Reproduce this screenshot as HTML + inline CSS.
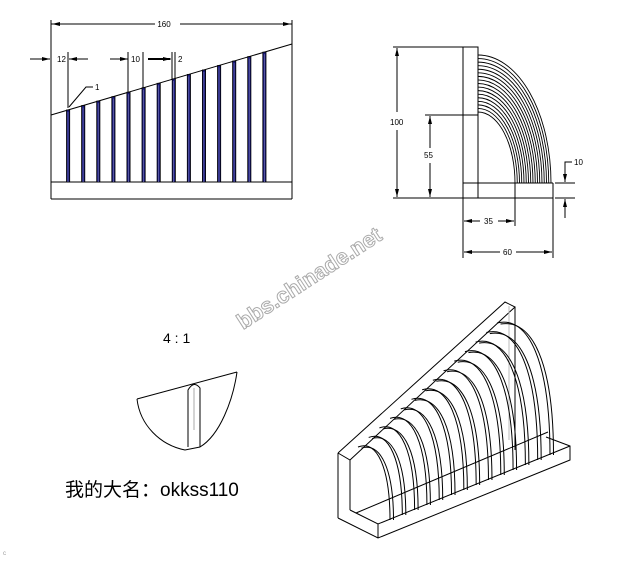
<!DOCTYPE html>
<html><head><meta charset="utf-8"><style>
html,body{margin:0;padding:0;background:#fff;}
svg{display:block;font-family:"Liberation Sans",sans-serif;}
</style></head><body>
<svg id="s" width="638" height="562" viewBox="0 0 638 562" xmlns="http://www.w3.org/2000/svg">
<defs>
<marker id="a" markerWidth="8" markerHeight="6" refX="8" refY="3" orient="auto" markerUnits="userSpaceOnUse"><path d="M0,1 L8,3 L0,5 z" fill="#000"/></marker>
</defs>
<g stroke="#000" stroke-width="1" fill="none">
<line x1="51" y1="20" x2="51" y2="199"/>
<line x1="292" y1="20" x2="292" y2="199"/>
<line x1="51" y1="199" x2="292" y2="199"/>
<line x1="51" y1="182" x2="292" y2="182"/>
<line x1="51" y1="115" x2="292" y2="44"/>
<path d="M51,24 L155,24"/>
<path d="M180,24 L292,24"/>
<path d="M60,24 L52,24" marker-end="url(#a)"/>
<path d="M283,24 L291,24" marker-end="url(#a)"/>
<line x1="30" y1="59" x2="50" y2="59" marker-end="url(#a)"/>
<line x1="88" y1="59" x2="69" y2="59" marker-end="url(#a)"/>
<line x1="68" y1="52" x2="68" y2="108"/>
<line x1="110" y1="59" x2="128" y2="59" marker-end="url(#a)"/>
<line x1="128" y1="52" x2="128" y2="95"/>
<line x1="143" y1="52" x2="143" y2="90"/>
<line x1="148" y1="59" x2="170" y2="59" stroke-width="2"/>
<line x1="165" y1="59" x2="171" y2="59" marker-end="url(#a)"/>
<line x1="172" y1="52" x2="172" y2="80"/>
<line x1="175" y1="52" x2="175" y2="80"/>
<polyline points="93,87 86,87 69,107"/>
<rect x="463" y="47" width="15" height="151"/>
<line x1="463" y1="183" x2="553" y2="183"/>
<polyline points="478,198 553,198 553,183"/>
<line x1="393" y1="47" x2="463" y2="47"/>
<line x1="393" y1="198" x2="463" y2="198"/>
<line x1="425" y1="115" x2="478" y2="115"/>
<line x1="397" y1="112" x2="397" y2="48" marker-end="url(#a)"/>
<line x1="397" y1="130" x2="397" y2="197" marker-end="url(#a)"/>
<line x1="430" y1="148" x2="430" y2="116" marker-end="url(#a)"/>
<line x1="430" y1="163" x2="430" y2="197" marker-end="url(#a)"/>
<line x1="515" y1="183" x2="515" y2="226"/>
<line x1="463" y1="198" x2="463" y2="258"/>
<line x1="553" y1="198" x2="553" y2="258"/>
<line x1="480" y1="221" x2="464" y2="221" marker-end="url(#a)"/>
<line x1="498" y1="221" x2="514" y2="221" marker-end="url(#a)"/>
<line x1="500" y1="252" x2="464" y2="252" marker-end="url(#a)"/>
<line x1="516" y1="252" x2="552" y2="252" marker-end="url(#a)"/>
<line x1="555" y1="183" x2="575" y2="183"/>
<line x1="555" y1="198" x2="575" y2="198"/>
<polyline points="572,162 565,162 565,182" />
<line x1="565" y1="170" x2="565" y2="182" marker-end="url(#a)"/>
<line x1="565" y1="218" x2="565" y2="199" marker-end="url(#a)"/>
<line x1="137" y1="399" x2="237" y2="372"/>
<path d="M137,399 C140,425 160,445 185,450 L200,447 C220,435 233,400 237,372"/>
<path d="M188,447 L188,390 Q194,380 200,388 L200,447" />
<line x1="194" y1="388" x2="194" y2="430" stroke="#aaa"/>
<polyline points="338,453 505,302 515,307 350,460 338,453"/>
<line x1="338" y1="453" x2="338" y2="518"/>
<line x1="350" y1="460" x2="350" y2="510"/>
<line x1="515" y1="307" x2="515" y2="450"/>
<line x1="509" y1="306" x2="509" y2="440" stroke="#bbb"/>
<polyline points="338,518 378,538 570,460 570,446 546,437"/>
<polyline points="350,510 356,513 378,524 570,446"/>
<line x1="378" y1="524" x2="378" y2="538"/>
<line x1="356" y1="513" x2="548" y2="432"/>
</g>
<g id="bars" stroke="#000" stroke-width="0.8"></g>
<g id="arcs" fill="none" stroke="#000" stroke-width="0.9"></g>
<g id="iso" fill="none" stroke="#000" stroke-width="1"></g>
<g font-size="8" fill="#000">
<text x="164" y="27" text-anchor="middle" style="paint-order:stroke" stroke="#fff" stroke-width="6">160</text>
<text x="57" y="62">12</text>
<text x="131" y="62">10</text>
<text x="178" y="62">2</text>
<text x="95" y="90">1</text>
<text x="390" y="125">100</text>
<text x="424" y="158">55</text>
<text x="484" y="224">35</text>
<text x="503" y="255">60</text>
<text x="574" y="165">10</text>
</g>
<text x="163" y="343" font-size="14">4 : 1</text>
<text x="65" y="496" font-size="19" font-family="'Liberation Sans','Noto Sans CJK SC',sans-serif">我的大名：okkss110</text>
<text x="0" y="0" font-size="22" font-weight="bold" fill="#fff" stroke="#aaa" stroke-width="1" transform="translate(243,330) rotate(-33)">bbs.chinade.net</text>
<text x="3" y="555" font-size="6" fill="#999">c</text>
<script>
var ns="http://www.w3.org/2000/svg";
function el(g,t,a){var e=document.createElementNS(ns,t);for(var k in a)e.setAttribute(k,a[k]);document.getElementById(g).appendChild(e);}
for(var i=0;i<14;i++){var x=68+i*15.1;var y=115-(x-51)*71/241;
 el("bars","rect",{x:x-1.5,y:y,width:3.2,height:182-y,fill:"#1a1a7a"});
 el("bars","line",{x1:x,y1:y+2,x2:x,y2:182,stroke:"#8080c0","stroke-width":0.6});}
for(var i=0;i<17;i++){var t=i/16;var rx=37+t*36,ry=71+t*57;
 el("arcs","path",{d:"M478,"+(183-ry)+" A"+rx+","+ry+" 0 0 1 "+(478+rx)+",183"});}
for(var i=0;i<14;i++){var t=i/13;
 var sx=358+t*139, sy=447-t*124, ex=390+t*160, ey=520-t*65;
 for(var d=0;d<2;d++){var o=d*3.5;
  el("iso","path",{d:"M"+(sx+o)+","+(sy+o*0.3)+" C"+(sx+o+(ex-sx)*0.6)+","+(sy-8+o)+" "+(ex+o)+","+(sy+(ey-sy)*0.3)+" "+(ex+o)+","+ey});}}
</script>
</svg>
</body></html>
